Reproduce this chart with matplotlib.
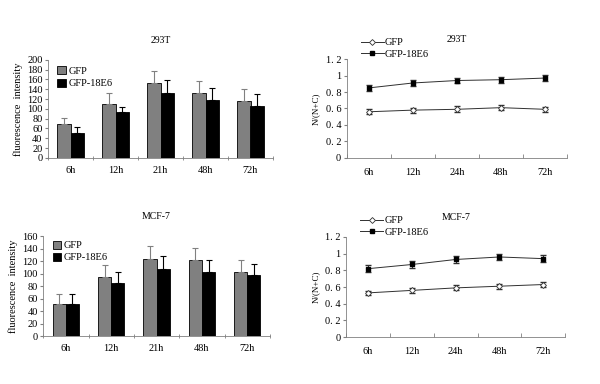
import numpy as np
import matplotlib
matplotlib.use('Agg')
import matplotlib.pyplot as plt

plt.rcParams['font.family'] = ['Liberation Serif', 'DejaVu Serif']
plt.rcParams['font.size'] = 7.5

bar_times = ['6h', '12h', '21h', '48h', '72h']
line_times = ['6h', '12h', '24h', '48h', '72h']

# 293T fluorescence intensity
t293_gfp = [69, 110, 152, 133, 116]
t293_gfp_err = [12, 22, 26, 23, 24]
t293_e6 = [51, 93, 133, 119, 106]
t293_e6_err = [12, 11, 25, 23, 24]

# MCF-7 fluorescence intensity
mcf_gfp = [52, 95, 124, 121, 102]
mcf_gfp_err = [15, 19, 21, 20, 20]
mcf_e6 = [51, 85, 108, 103, 97]
mcf_e6_err = [16, 18, 21, 19, 19]

# N/(N+C) ratios
t293_ratio_gfp = [0.56, 0.58, 0.59, 0.61, 0.59]
t293_ratio_gfp_err = [0.03, 0.03, 0.035, 0.03, 0.03]
t293_ratio_e6 = [0.85, 0.91, 0.94, 0.95, 0.97]
t293_ratio_e6_err = [0.035, 0.035, 0.035, 0.035, 0.04]

mcf_ratio_gfp = [0.53, 0.56, 0.59, 0.61, 0.63]
mcf_ratio_gfp_err = [0.025, 0.03, 0.03, 0.03, 0.03]
mcf_ratio_e6 = [0.82, 0.87, 0.93, 0.96, 0.94]
mcf_ratio_e6_err = [0.04, 0.04, 0.04, 0.04, 0.04]


def style_axes(ax):
    for s in ['top', 'right']:
        ax.spines[s].set_visible(False)
    for s in ['left', 'bottom']:
        ax.spines[s].set_color('#808080')
        ax.spines[s].set_linewidth(0.6)
    ax.tick_params(axis='y', length=2, pad=2, color='#808080')


def bar_panel(ax, title, gfp, gfp_err, e6, e6_err, ymax, ystep, leg_y):
    x = np.arange(len(bar_times))
    w = 0.29
    ax.bar(x - w / 2, gfp, w, color='#808080', edgecolor='black', linewidth=0.6, label='GFP')
    ax.bar(x + w / 2, e6, w, color='black', edgecolor='black', linewidth=0.6, label='GFP-18E6')
    ax.errorbar(x - w / 2, gfp, yerr=[np.zeros(len(gfp)), gfp_err], fmt='none',
                ecolor='#808080', elinewidth=0.8, capsize=2, capthick=0.8)
    ax.errorbar(x + w / 2, e6, yerr=[np.zeros(len(e6)), e6_err], fmt='none',
                ecolor='black', elinewidth=0.8, capsize=2, capthick=0.8)
    ax.set_xlim(-0.5, len(bar_times) - 0.5)
    ax.set_ylim(0, ymax)
    ax.set_yticks(np.arange(0, ymax + 1, ystep))
    ax.set_xticks(x)
    ax.set_xticklabels(bar_times)
    ax.set_xticks(np.arange(-0.5, len(bar_times)), minor=True)
    ax.tick_params(axis='x', which='major', length=0, pad=6)
    ax.tick_params(axis='x', which='minor', length=3, direction='inout', color='#808080')
    style_axes(ax)
    ax.set_ylabel('fluorescence  intensity', fontsize=7.5, labelpad=3)
    ax.set_title(title, fontsize=7, pad=12)
    ax.legend(loc='upper left', bbox_to_anchor=(0.0, leg_y), frameon=False, fontsize=7.5,
              handlelength=0.8, handleheight=0.8, handletextpad=0.3, labelspacing=0.25)


def line_panel(ax, title, gfp, gfp_err, e6, e6_err):
    x = np.arange(len(line_times))
    ax.errorbar(x, gfp, yerr=gfp_err, fmt='none', ecolor='#303030', elinewidth=0.7, capsize=2)
    ax.errorbar(x, e6, yerr=e6_err, fmt='none', ecolor='#303030', elinewidth=0.7, capsize=2)
    ax.plot(x, gfp, color='#303030', linewidth=0.7, marker='D', markersize=3,
            markerfacecolor='white', markeredgecolor='#303030', markeredgewidth=0.6, label='GFP')
    ax.plot(x, e6, color='#303030', linewidth=0.7, marker='s', markersize=3.5,
            markerfacecolor='black', markeredgecolor='black', label='GFP-18E6')
    ax.set_xlim(-0.5, len(line_times) - 0.5)
    ax.set_ylim(0, 1.2)
    ax.set_yticks([0, 0.2, 0.4, 0.6, 0.8, 1.0, 1.2])
    ax.set_yticklabels(['0', '0. 2', '0. 4', '0. 6', '0. 8', '1', '1. 2'])
    ax.set_xticks(x)
    ax.set_xticklabels(line_times)
    ax.set_xticks(np.arange(-0.5, len(line_times)), minor=True)
    ax.tick_params(axis='x', which='major', length=0, pad=7)
    ax.tick_params(axis='x', which='minor', length=3, direction='in', color='#808080')
    style_axes(ax)
    ax.set_ylabel('N/(N+C)', fontsize=6.5, labelpad=4)
    ax.set_title(title, fontsize=7, pad=12)
    ax.legend(loc='lower left', bbox_to_anchor=(0.04, 0.95), frameon=False, fontsize=7.5,
              handlelength=2.2, handletextpad=0.1, labelspacing=0.2, borderpad=0.0)


fig = plt.figure(figsize=(6, 3.84), dpi=100)
ax1 = fig.add_axes([0.08, 0.589, 0.375, 0.255])
ax2 = fig.add_axes([0.578, 0.589, 0.367, 0.257])
ax3 = fig.add_axes([0.072, 0.125, 0.378, 0.26])
ax4 = fig.add_axes([0.577, 0.122, 0.365, 0.261])

bar_panel(ax1, '293T', t293_gfp, t293_gfp_err, t293_e6, t293_e6_err, 200, 20, 1.03)
bar_panel(ax3, 'MCF-7', mcf_gfp, mcf_gfp_err, mcf_e6, mcf_e6_err, 160, 20, 1.05)
line_panel(ax2, '293T', t293_ratio_gfp, t293_ratio_gfp_err, t293_ratio_e6, t293_ratio_e6_err)
line_panel(ax4, 'MCF-7', mcf_ratio_gfp, mcf_ratio_gfp_err, mcf_ratio_e6, mcf_ratio_e6_err)

fig.savefig('out.png', dpi=100)
